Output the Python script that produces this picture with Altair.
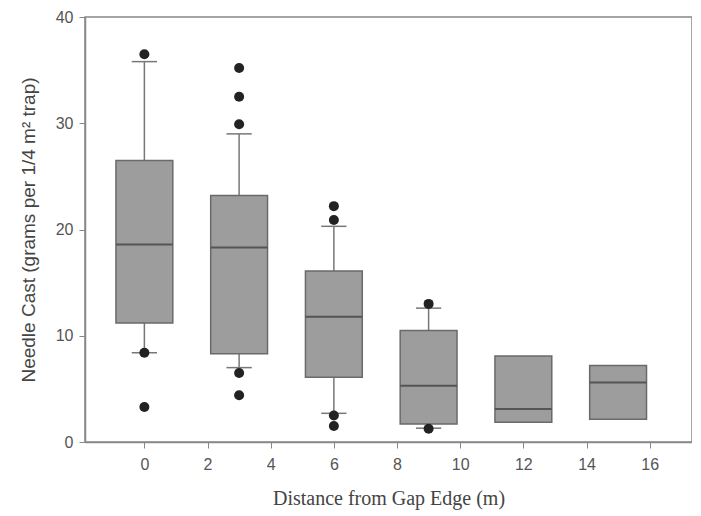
import altair as alt
import pandas as pd

# Box statistics
positions = [0, 3, 6, 9, 12, 15]
q1 = [11.2, 8.3, 6.1, 1.7, 1.85, 2.15]
medians = [18.6, 18.3, 11.8, 5.3, 3.1, 5.6]
q3 = [26.5, 23.2, 16.1, 10.5, 8.1, 7.2]

# Whiskers (only first four groups have them)
whisk_pos = [0, 3, 6, 9]
whisk_lo = [8.4, 7.0, 2.7, 1.3]
whisk_hi = [35.8, 29.0, 20.3, 12.6]

# Outliers
out_x = [0, 0, 0, 3, 3, 3, 3, 3, 6, 6, 6, 6, 9, 9]
out_y = [36.5, 8.4, 3.3, 35.2, 32.5, 29.9, 6.5, 4.4, 22.2, 20.9, 2.5, 1.5, 13.0, 1.25]

x_ticks = [0, 2, 4, 6, 8, 10, 12, 14, 16]
y_ticks = [0, 10, 20, 30, 40]

boxes = pd.DataFrame({"pos": positions, "q1": q1, "med": medians, "q3": q3})
whisk = pd.DataFrame({"pos": whisk_pos, "lo": whisk_lo, "hi": whisk_hi})
caps = pd.concat([
    pd.DataFrame({"pos": whisk_pos, "v": whisk_lo}),
    pd.DataFrame({"pos": whisk_pos, "v": whisk_hi}),
])
outs = pd.DataFrame({"pos": out_x, "v": out_y})

xscale = alt.Scale(domain=[-1.88, 17.34], nice=False, zero=False)
yscale = alt.Scale(domain=[0, 40], nice=False)

xaxis = alt.Axis(values=x_ticks, title="Distance from Gap Edge (m)", grid=False,
                 labelFont="Liberation Sans", labelFontSize=16, labelColor="#555",
                 titleFont="Liberation Serif", titleFontSize=20, titleFontWeight="normal",
                 titleColor="#444", titlePadding=16, labelPadding=8,
                 tickSize=6, tickColor="#888", domainColor="#888", domainWidth=1.5)
yaxis = alt.Axis(values=y_ticks, title="Needle Cast (grams per 1/4 m² trap)",
                 grid=False, labelFont="Liberation Sans", labelFontSize=16,
                 labelColor="#555", titleFont="Liberation Sans", titleFontSize=19,
                 titleFontWeight="normal", titleColor="#444", titlePadding=17,
                 labelPadding=6, tickSize=6, tickColor="#888", domainColor="#888",
                 domainWidth=1.5)

whisker_layer = alt.Chart(whisk).mark_rule(color="#777", strokeWidth=1.5).encode(
    x=alt.X("pos:Q", scale=xscale, axis=xaxis),
    y=alt.Y("lo:Q", scale=yscale, axis=yaxis),
    y2="hi:Q",
)

cap_layer = alt.Chart(caps).transform_calculate(
    a="datum.pos - 0.4", b="datum.pos + 0.4"
).mark_rule(color="#777", strokeWidth=1.5).encode(
    x=alt.X("a:Q", scale=xscale), x2="b:Q", y=alt.Y("v:Q", scale=yscale)
)

box_layer = alt.Chart(boxes).transform_calculate(
    a="datum.pos - 0.9", b="datum.pos + 0.9"
).mark_rect(fill="#9d9d9d", stroke="#6a6a6a", strokeWidth=1.5).encode(
    x=alt.X("a:Q", scale=xscale), x2="b:Q",
    y=alt.Y("q1:Q", scale=yscale), y2="q3:Q",
)

med_layer = alt.Chart(boxes).transform_calculate(
    a="datum.pos - 0.9", b="datum.pos + 0.9"
).mark_rule(color="#555", strokeWidth=2).encode(
    x=alt.X("a:Q", scale=xscale), x2="b:Q", y=alt.Y("med:Q", scale=yscale)
)

out_layer = alt.Chart(outs).mark_circle(color="#222", opacity=1, size=100).encode(
    x=alt.X("pos:Q", scale=xscale), y=alt.Y("v:Q", scale=yscale)
)

chart = alt.layer(whisker_layer, cap_layer, box_layer, med_layer, out_layer).properties(
    width=607, height=425,
    autosize=alt.AutoSizeParams(type="none"),
    padding={"left": 77, "top": 9, "right": 0, "bottom": 70},
    background="white",
).configure_view(stroke="#888", strokeWidth=1.5)

chart.save("out.html", embed_options={"renderer": "svg", "actions": False})
